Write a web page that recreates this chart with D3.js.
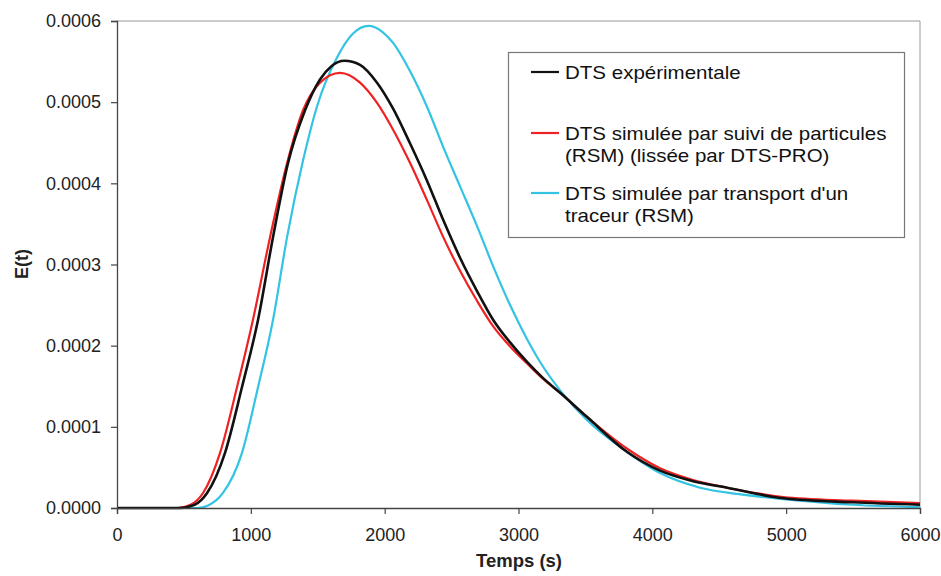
<!DOCTYPE html>
<html><head><meta charset="utf-8">
<script src="https://cdn.jsdelivr.net/npm/d3@7"></script>
<style>body{margin:0;background:#fff}svg{display:block;font-family:"Liberation Sans",Arial,sans-serif}</style>
</head><body><svg id="c" width="941" height="576"></svg>
<script>
const xTicks = [0,1000,2000,3000,4000,5000,6000];
const yTicks = [0,0.0001,0.0002,0.0003,0.0004,0.0005,0.0006];
const seriesNames = ["DTS expérimentale","DTS simulée par suivi de particules|(RSM) (lissée par DTS-PRO)","DTS simulée par transport d'un|traceur (RSM)"];
const seriesColors = ["#111111","#ee2222","#33c3e3"];

const tExp = [0,470,580,673,807,934,1054,1166,1278,1405,1517,1600,1700,1816,1943,2063,2190,2317,2437,2564,2691,2810,2937,3064,3184,3311,3513,3812,4058,4305,4559,4978,5500,6000];
const eExp = [0,0,0.04e-4,0.185e-4,0.68e-4,1.49e-4,2.32e-4,3.34e-4,4.25e-4,4.90e-4,5.28e-4,5.44e-4,5.51e-4,5.46e-4,5.24e-4,4.92e-4,4.49e-4,4.03e-4,3.55e-4,3.08e-4,2.67e-4,2.32e-4,2.04e-4,1.80e-4,1.60e-4,1.42e-4,1.12e-4,0.69e-4,0.46e-4,0.33e-4,0.25e-4,0.12e-4,0.07e-4,0.04e-4];

const tPart = [0,450,550,643,770,897,1016,1144,1271,1390,1517,1667,1816,1943,2063,2190,2317,2437,2564,2691,2810,2937,3064,3184,3311,3513,3812,4058,4305,4559,4978,5500,6000];
const ePart = [0,0,0.04e-4,0.185e-4,0.68e-4,1.49e-4,2.32e-4,3.34e-4,4.25e-4,4.90e-4,5.24e-4,5.36e-4,5.24e-4,4.99e-4,4.66e-4,4.25e-4,3.79e-4,3.34e-4,2.92e-4,2.55e-4,2.24e-4,1.99e-4,1.78e-4,1.59e-4,1.42e-4,1.12e-4,0.73e-4,0.49e-4,0.345e-4,0.25e-4,0.135e-4,0.09e-4,0.06e-4];

const tTrac = [0,600,680,792,934,1054,1166,1271,1390,1495,1644,1760,1880,1980,2063,2190,2317,2437,2564,2691,2810,2937,3064,3184,3311,3513,3812,4058,4357,4650,4978,5500,6000];
const eTrac = [0,0,0.03e-4,0.185e-4,0.68e-4,1.49e-4,2.32e-4,3.34e-4,4.28e-4,4.95e-4,5.55e-4,5.84e-4,5.94e-4,5.87e-4,5.73e-4,5.38e-4,4.94e-4,4.45e-4,3.96e-4,3.47e-4,2.98e-4,2.50e-4,2.08e-4,1.74e-4,1.45e-4,1.08e-4,0.69e-4,0.43e-4,0.25e-4,0.17e-4,0.11e-4,0.04e-4,0.01e-4];

const svg = d3.select("#c");
const L=117, R=920, T=21, B=508;
const x = d3.scaleLinear().domain([0,6000]).range([L,R]);
const y = d3.scaleLinear().domain([0,0.0006]).range([B,T]);

svg.append("path").attr("d",`M${L},${T}H${R}V${B}`).attr("fill","none").attr("stroke","#9a9a9a").attr("stroke-width",1);

const series = [[tExp,eExp],[tPart,ePart],[tTrac,eTrac]];
const line = d3.line().x(d=>x(d[0])).y(d=>y(d[1])).curve(d3.curveMonotoneX);
[2,1,0].forEach(i=>{
  const pts = series[i][0].map((t,k)=>[t,series[i][1][k]]);
  svg.append("path").attr("d",line(pts)).attr("fill","none")
    .attr("stroke",seriesColors[i]).attr("stroke-width",i===0?2.6:2.2).attr("stroke-linejoin","round");
});

const xAxis = svg.append("g").attr("transform",`translate(0,${B})`)
  .call(d3.axisBottom(x).tickValues(xTicks).tickFormat(d3.format("d")).tickSizeOuter(0).tickSize(6).tickPadding(14));
const yAxis = svg.append("g").attr("transform",`translate(${L},0)`)
  .call(d3.axisLeft(y).tickValues(yTicks).tickFormat(d3.format(".4f")).tickSizeOuter(0).tickSize(6).tickPadding(10));
[xAxis,yAxis].forEach(g=>{
  g.select(".domain").attr("stroke","#444").attr("stroke-width",1.3);
  g.selectAll(".tick line").attr("stroke","#444").attr("stroke-width",1.2);
  g.selectAll("text").attr("font-family","Liberation Sans, Arial, sans-serif").attr("font-size",18).attr("fill","#222");
});

svg.append("text").attr("x",519).attr("y",567).attr("text-anchor","middle")
  .attr("font-size",18.5).attr("font-weight","bold").attr("fill","#222").text("Temps (s)");
svg.append("text").attr("transform","translate(28,264) rotate(-90)").attr("text-anchor","middle")
  .attr("font-size",18).attr("font-weight","bold").attr("fill","#222").text("E(t)");

const lg = svg.append("g");
lg.append("rect").attr("x",508.5).attr("y",52.5).attr("width",396).attr("height",185)
  .attr("fill","#fff").attr("stroke","#777").attr("stroke-width",1.2);
const legY = [72,133,193];
seriesNames.forEach((n,i)=>{
  lg.append("line").attr("x1",531).attr("x2",559).attr("y1",legY[i]).attr("y2",legY[i])
    .attr("stroke",seriesColors[i]).attr("stroke-width",2.2);
  n.split("|").forEach((s,j)=>{
    lg.append("text").attr("transform",`translate(565,${legY[i]+6.5+j*22.5}) scale(1.14,1)`)
      .attr("font-size",18).attr("fill","#111").text(s);
  });
});
</script></body></html>
